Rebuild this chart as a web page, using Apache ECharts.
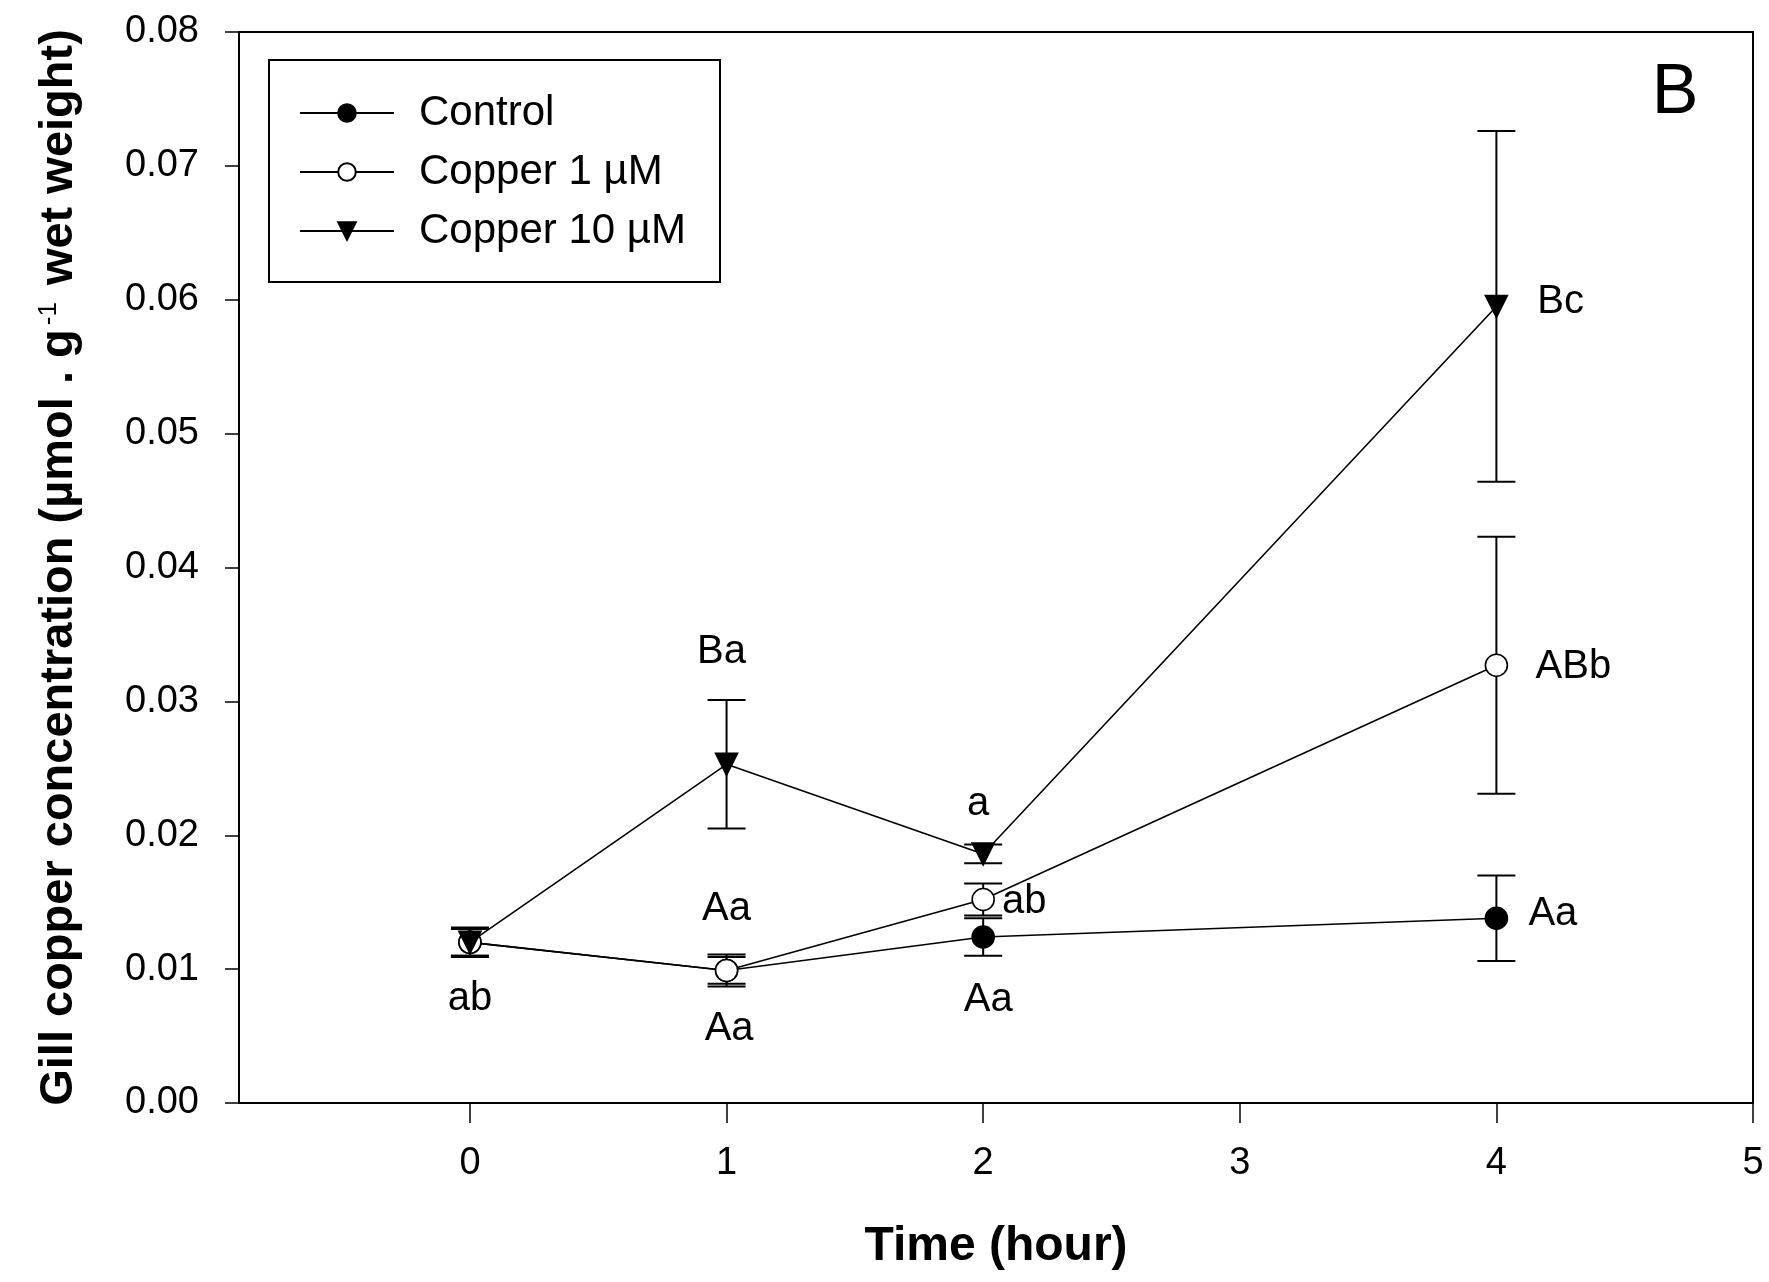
<!DOCTYPE html>
<html>
<head>
<meta charset="utf-8">
<script src="https://cdn.jsdelivr.net/npm/echarts@6/dist/echarts.min.js"></script>
<style>
  html, body { margin: 0; padding: 0; background: #fff; }
  #chart { width: 1769px; height: 1282px; }
</style>
</head>
<body>
<div id="chart"></div>
<script>
// === Data
const times = [0, 1, 2, 4];
const xTicks = [0, 1, 2, 3, 4, 5];

const controlMean = [0.0120, 0.0099, 0.0124, 0.0138];
const controlErr  = [0.0010, 0.0010, 0.0014, 0.0032];
const cu1Mean     = [0.0120, 0.0099, 0.0152, 0.0327];
const cu1Err      = [0.0010, 0.0012, 0.0012, 0.0096];
const cu10Mean    = [0.0120, 0.0253, 0.0186, 0.0595];
const cu10Err     = [0.0011, 0.0048, 0.0007, 0.0131];

const seriesNames = ['Control', 'Copper 1 \u00b5M', 'Copper 10 \u00b5M'];

// letters of significance: [time, concentration, text]
const letters = [
    [0.00, 0.0078, 'ab'],
    [0.98, 0.0337, 'Ba'],
    [1.00, 0.0145, 'Aa'],
    [1.01, 0.0055, 'Aa'],
    [1.98, 0.0223, 'a'],
    [2.16, 0.0150, 'ab'],
    [2.02, 0.0077, 'Aa'],
    [4.25, 0.0598, 'Bc'],
    [4.30, 0.0326, 'ABb'],
    [4.22, 0.0141, 'Aa']
];

const FONT = 'Liberation Sans, Arial, sans-serif';

// === Helpers
function toPoints(means) {
    return times.map((t, i) => [t, means[i]]);
}

function toErrBars(means, errs) {
    return times.map((t, i) => [t, means[i] - errs[i], means[i] + errs[i]]);
}

function renderErrBar(params, api) {
    const x = api.value(0);
    const top = api.coord([x, api.value(2)]);
    const bot = api.coord([x, api.value(1)]);
    const hw = 19;
    const st = { stroke: '#000', lineWidth: 2 };
    return {
        type: 'group',
        children: [
            { type: 'line', shape: { x1: top[0], y1: top[1], x2: bot[0], y2: bot[1] }, style: st },
            { type: 'line', shape: { x1: top[0] - hw, y1: top[1], x2: top[0] + hw, y2: top[1] }, style: st },
            { type: 'line', shape: { x1: bot[0] - hw, y1: bot[1], x2: bot[0] + hw, y2: bot[1] }, style: st }
        ]
    };
}

function errSeries(means, errs) {
    return {
        type: 'custom',
        renderItem: renderErrBar,
        data: toErrBars(means, errs),
        encode: { x: 0, y: [1, 2] },
        z: 1,
        silent: true
    };
}

function lineSeries(name, means, symbol, fill, rotate) {
    return {
        name: name,
        type: 'line',
        data: toPoints(means),
        symbol: symbol,
        symbolSize: 22,
        symbolRotate: rotate || 0,
        showAllSymbol: true,
        lineStyle: { color: '#000', width: 1.6 },
        itemStyle: { color: fill, borderColor: '#000', borderWidth: 1.6 },
        z: 3
    };
}

// === Chart
const chart = echarts.init(document.getElementById('chart'));

chart.setOption({
    animation: false,
    backgroundColor: '#fff',
    textStyle: { fontFamily: FONT, color: '#000' },
    grid: {
        left: 239, right: 16, top: 32, bottom: 179,
        show: true, borderColor: '#000', borderWidth: 2
    },
    legend: {
        data: seriesNames,
        orient: 'vertical',
        left: 299,
        top: 92,
        padding: 0,
        itemWidth: 94,
        itemHeight: 22,
        itemGap: 17,
        textStyle: { fontFamily: FONT, fontSize: 42, lineHeight: 40, color: '#000', padding: [0, 0, 0, 20] }
    },
    xAxis: {
        type: 'value',
        min: -0.9,
        max: 5,
        name: 'Time (hour)',
        nameLocation: 'middle',
        nameGap: 120,
        nameTextStyle: { fontFamily: FONT, fontSize: 48, fontWeight: 'bold', color: '#000' },
        axisLine: { show: true, onZero: false, lineStyle: { color: '#000', width: 2 } },
        axisTick: { show: true, length: 20, customValues: xTicks, lineStyle: { color: '#000', width: 1.5 } },
        axisLabel: { customValues: xTicks, margin: 42, fontSize: 38, color: '#000', fontFamily: FONT },
        splitLine: { show: false }
    },
    yAxis: {
        type: 'value',
        min: 0,
        max: 0.08,
        interval: 0.01,
        name: '{t|Gill copper concentration (\u00b5mol . g}{s|-1}{t| wet weight)}',
        nameLocation: 'middle',
        nameGap: 156,
        nameTextStyle: {
            rich: {
                t: { fontFamily: FONT, fontSize: 47, fontWeight: 'bold', color: '#000' },
                s: { fontFamily: FONT, fontSize: 26, color: '#000', verticalAlign: 'top', padding: [0, 4, 20, 4] }
            }
        },
        axisLine: { show: true, onZero: false, lineStyle: { color: '#000', width: 2 } },
        axisTick: { show: true, length: 14, lineStyle: { color: '#000', width: 1.5 } },
        axisLabel: {
            margin: 40, fontSize: 38, color: '#000', fontFamily: FONT,
            formatter: v => v.toFixed(2)
        },
        splitLine: { show: false }
    },
    graphic: [
        {
            type: 'rect',
            shape: { x: 269, y: 60, width: 451, height: 222 },
            style: { fill: 'none', stroke: '#000', lineWidth: 2 },
            z: 10
        },
        {
            type: 'text',
            x: 1675, y: 94,
            style: { text: 'B', font: '70px ' + FONT, fill: '#000', align: 'center', verticalAlign: 'middle' },
            z: 10
        }
    ],
    series: [
        errSeries(controlMean, controlErr),
        errSeries(cu1Mean, cu1Err),
        errSeries(cu10Mean, cu10Err),
        lineSeries(seriesNames[0], controlMean, 'circle', '#000'),
        lineSeries(seriesNames[1], cu1Mean, 'circle', '#fff'),
        lineSeries(seriesNames[2], cu10Mean, 'triangle', '#000', 180),
        {
            type: 'scatter',
            data: letters.map(l => ({ value: [l[0], l[1]], name: l[2] })),
            symbolSize: 0,
            itemStyle: { color: '#000', opacity: 1 },
            silent: true,
            z: 4,
            label: {
                show: true,
                position: 'inside',
                formatter: p => p.name,
                fontFamily: FONT,
                fontSize: 40,
                color: '#000',
                textBorderWidth: 0,
                opacity: 1
            }
        }
    ]
});
</script>
</body>
</html>
